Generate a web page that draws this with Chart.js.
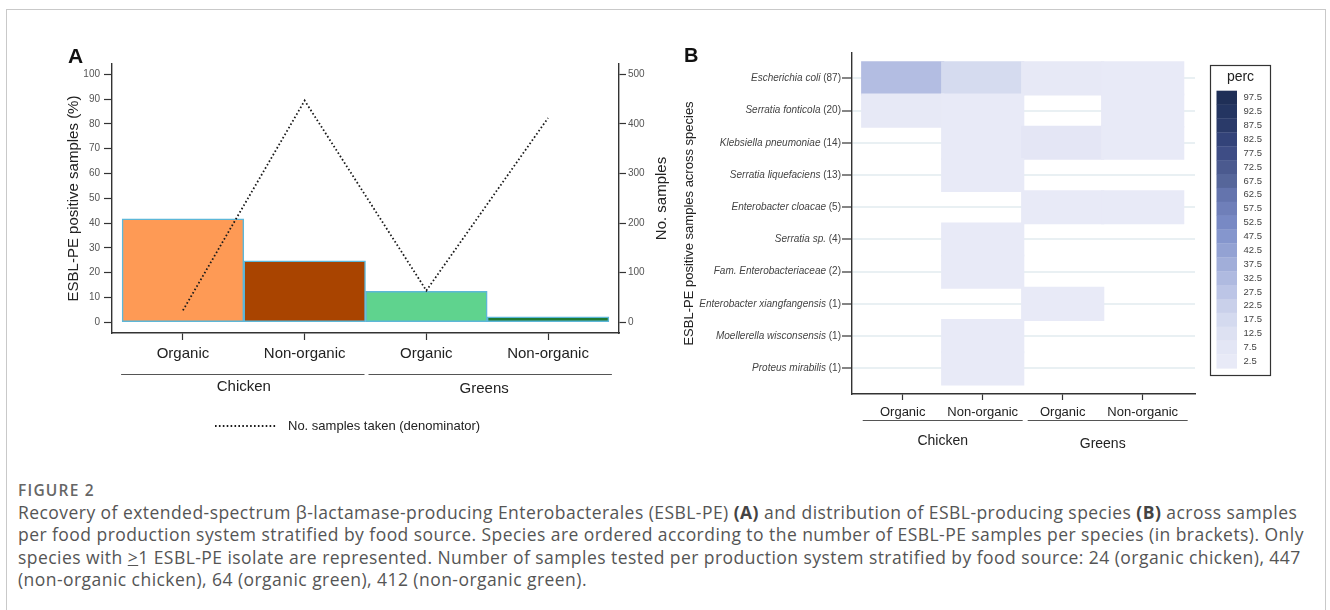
<!DOCTYPE html>
<html>
<head>
<meta charset="utf-8">
<script src="https://cdn.jsdelivr.net/npm/chart.js@4.4.1/dist/chart.umd.min.js"></script>
<style>
  body { margin: 0; background: #fff; width: 1330px; height: 610px; overflow: hidden; position: relative; }
  #frame { position: absolute; left: 6px; top: 9px; width: 1318px; height: 700px; border: 1px solid #c9c9c9; }
  #chartA { position: absolute; left: 0; top: 0; }
  #chartB { position: absolute; left: 670px; top: 0; }
  #fig { position: absolute; left: 18px; top: 480px; font: 600 15.5px 'Open Sans', sans-serif; color: #666; letter-spacing: 1.2px; line-height: 20px; }
  #caption { position: absolute; left: 18px; top: 501px; font: 17.5px 'Open Sans', sans-serif; color: #555; letter-spacing: 0.45px; line-height: 22.3px; white-space: nowrap; }
  #caption b { color: #444; }
</style>
</head>
<body>
<div id="frame"></div>
<canvas id="chartA" width="700" height="450"></canvas>
<canvas id="chartB" width="660" height="450"></canvas>
<div id="fig">FIGURE 2</div>
<div id="caption">
  <div>Recovery of extended-spectrum β-lactamase-producing Enterobacterales (ESBL-PE) <b>(A)</b> and distribution of ESBL-producing species <b>(B)</b> across samples</div>
  <div>per food production system stratified by food source. Species are ordered according to the number of ESBL-PE samples per species (in brackets). Only</div>
  <div>species with <u>&gt;</u>1 ESBL-PE isolate are represented. Number of samples tested per production system stratified by food source: 24 (organic chicken), 447</div>
  <div>(non-organic chicken), 64 (organic green), 412 (non-organic green).</div>
</div>
<script>
// panel A data
const systemLabels = ['Organic', 'Non-organic', 'Organic', 'Non-organic'];
const foodSources = ['Chicken', 'Greens'];
const esblPositivePct = [41.7, 24.8, 12.5, 2.2];
const samplesTaken = [24, 447, 64, 412];
const pctTicks = [0, 10, 20, 30, 40, 50, 60, 70, 80, 90, 100];
const sampleTicks = [0, 100, 200, 300, 400, 500];

// panel B data
const species = ['Escherichia coli', 'Serratia fonticola', 'Klebsiella pneumoniae', 'Serratia liquefaciens',
  'Enterobacter cloacae', 'Serratia sp.', 'Fam. Enterobacteriaceae', 'Enterobacter xiangfangensis',
  'Moellerella wisconsensis', 'Proteus mirabilis'];
const speciesCounts = [87, 20, 14, 13, 5, 4, 2, 1, 1, 1];
const percOrganicChicken = [31, 4, null, null, null, null, null, null, null, null];
const percNonOrganicChicken = [17, 3, 3, 3, null, 2, 1, null, 1, 1];
const percOrganicGreens = [4, null, 7, null, 3, null, null, 2, null, null];
const percNonOrganicGreens = [3, 2, 2, null, 2, null, null, null, null, null];
const percLevels = [2.5, 7.5, 12.5, 17.5, 22.5, 27.5, 32.5, 37.5, 42.5, 47.5,
  52.5, 57.5, 62.5, 67.5, 72.5, 77.5, 82.5, 87.5, 92.5, 97.5];

const barColors = ['#fe9a55', '#a94400', '#5fd38e', '#1f7a33'];
const percColors = ['#e8eaf7', '#e3e6f5', '#dde1f2', '#d4daef', '#c9d0ea', '#bcc5e6', '#afbae0', '#a1aed9',
  '#93a2d3', '#8596cd', '#7889c4', '#6f7fb9', '#6474ad', '#56669a', '#4b5a8f', '#3e4d85',
  '#334379', '#2a3a69', '#243561', '#1f2f57'];

const FONT = "'Liberation Sans', Arial, sans-serif";
Chart.defaults.font.family = FONT;
Chart.defaults.color = '#555';

function hexRgb(h) {
  return [parseInt(h.slice(1, 3), 16), parseInt(h.slice(3, 5), 16), parseInt(h.slice(5, 7), 16)];
}
function colorFor(v) {
  let t = (v - percLevels[0]) / (percLevels[1] - percLevels[0]);
  t = Math.max(0, Math.min(percColors.length - 1, t));
  const i = Math.floor(t), j = Math.min(i + 1, percColors.length - 1), f = t - i;
  const a = hexRgb(percColors[i]), b = hexRgb(percColors[j]);
  const c = a.map((x, k) => Math.round(x + (b[k] - x) * f));
  return `rgb(${c[0]},${c[1]},${c[2]})`;
}

function rotatedText(ctx, text, x, y, font, color) {
  ctx.save();
  ctx.translate(x, y);
  ctx.rotate(-Math.PI / 2);
  ctx.font = font;
  ctx.fillStyle = color;
  ctx.textAlign = 'center';
  ctx.textBaseline = 'middle';
  ctx.fillText(text, 0, 0);
  ctx.restore();
}

const axisLine = { color: '#333', width: 1.4 };
const tickMarks = (len) => ({ offset: false, drawOnChartArea: false, tickLength: len, tickColor: '#333', tickWidth: 1.2 });

// Panel A extras: titles, group labels, legend
const panelADecor = {
  id: 'panelADecor',
  afterDraw(chart) {
    const { ctx, chartArea: a, scales: { x } } = chart;
    ctx.save();
    ctx.fillStyle = '#111';
    ctx.font = `bold 21px ${FONT}`;
    ctx.textBaseline = 'alphabetic';
    ctx.fillText('A', 68, 63);

    const midY = (a.top + a.bottom) / 2;
    rotatedText(ctx, 'ESBL-PE positive samples (%)', 74, midY, `15px ${FONT}`, '#222');
    rotatedText(ctx, 'No. samples', 662, midY, `15px ${FONT}`, '#222');

    // food source brackets
    ctx.strokeStyle = '#555';
    ctx.lineWidth = 1;
    const lineY = 374.5;
    ctx.beginPath();
    ctx.moveTo(x.getPixelForValue(-0.5) - 1, lineY);
    ctx.lineTo(x.getPixelForValue(1.5) - 1, lineY);
    ctx.moveTo(x.getPixelForValue(1.5) + 3, lineY);
    ctx.lineTo(x.getPixelForValue(3.5) + 3, lineY);
    ctx.stroke();
    ctx.fillStyle = '#222';
    ctx.font = `15px ${FONT}`;
    ctx.textAlign = 'center';
    ctx.textBaseline = 'middle';
    ctx.fillText(foodSources[0], x.getPixelForValue(0.5), 387);
    ctx.fillText(foodSources[1], x.getPixelForValue(2.5) - 3, 389);

    // legend
    const ds = chart.data.datasets[0];
    ctx.strokeStyle = ds.borderColor;
    ctx.lineWidth = ds.borderWidth;
    ctx.setLineDash(ds.borderDash);
    ctx.beginPath();
    ctx.moveTo(215, 426);
    ctx.lineTo(276, 426);
    ctx.stroke();
    ctx.setLineDash([]);
    ctx.font = `13px ${FONT}`;
    ctx.textAlign = 'left';
    ctx.fillText(ds.label, 288, 426);
    ctx.restore();
  }
};

new Chart(document.getElementById('chartA'), {
  data: {
    datasets: [
      {
        type: 'line', label: 'No. samples taken (denominator)',
        data: samplesTaken.map((v, i) => ({ x: i, y: v })),
        yAxisID: 'y2', borderColor: '#1a1a1a', borderWidth: 1.8, borderDash: [1.6, 2.3],
        pointRadius: 0, fill: false, tension: 0, order: 0
      },
      {
        type: 'bar', label: 'ESBL-PE positive samples (%)',
        data: esblPositivePct.map((v, i) => ({ x: i, y: v })),
        yAxisID: 'y', backgroundColor: barColors, borderColor: '#5db7d8', borderWidth: 1.5,
        borderSkipped: false, barPercentage: 1, categoryPercentage: 1, order: 1
      }
    ]
  },
  options: {
    responsive: false, animation: false, devicePixelRatio: 1,
    layout: { padding: { top: 64, left: 0, right: 0, bottom: 0 } },
    plugins: { legend: { display: false }, tooltip: { enabled: false } },
    scales: {
      x: {
        type: 'linear', offset: false, min: -0.583, max: 3.583,
        afterBuildTicks: s => { s.ticks = systemLabels.map((_, i) => ({ value: i })); },
        ticks: { callback: v => systemLabels[v], font: { size: 15 }, color: '#222', padding: 5, maxRotation: 0, autoSkip: false },
        grid: tickMarks(7), border: axisLine,
        afterFit: s => { s.height = 117; }
      },
      y: {
        type: 'linear', position: 'left', min: -4.32, max: 104.16,
        afterBuildTicks: s => { s.ticks = pctTicks.map(v => ({ value: v })); },
        ticks: { font: { size: 10 }, color: '#555', padding: 4 },
        grid: tickMarks(8), border: axisLine,
        afterFit: s => { s.width = 112; }
      },
      y2: {
        type: 'linear', position: 'right', min: -21.6, max: 520.8,
        afterBuildTicks: s => { s.ticks = sampleTicks.map(v => ({ value: v })); },
        ticks: { font: { size: 10 }, color: '#555', padding: 2 },
        grid: tickMarks(7), border: axisLine,
        afterFit: s => { s.width = 81; }
      }
    }
  },
  plugins: [panelADecor]
});

// Panel B: heatmap cells as floating bars
const percByColumn = [percOrganicChicken, percNonOrganicChicken, percOrganicGreens, percNonOrganicGreens];
const cells = [];
species.forEach((_, r) => {
  percByColumn.forEach((col, c) => {
    if (col[r] != null) cells.push({ x: c, y: [r - 0.53, r + 0.53], v: col[r] });
  });
});

const panelBDecor = {
  id: 'panelBDecor',
  afterDraw(chart) {
    const { ctx, chartArea: a, scales: { x, y } } = chart;
    ctx.save();
    ctx.fillStyle = '#111';
    ctx.font = `bold 20px ${FONT}`;
    ctx.fillText('B', 14, 62);

    rotatedText(ctx, 'ESBL-PE positive samples across species', 19, (a.top + a.bottom) / 2, `13px ${FONT}`, '#222');

    // species labels: italic name + plain count
    ctx.textBaseline = 'middle';
    ctx.textAlign = 'right';
    ctx.fillStyle = '#444';
    const right = a.left - 11;
    species.forEach((name, i) => {
      const py = y.getPixelForValue(i);
      const count = ` (${speciesCounts[i]})`;
      ctx.font = `10px ${FONT}`;
      const cw = ctx.measureText(count).width;
      ctx.fillText(count, right, py);
      ctx.font = `italic 10px ${FONT}`;
      ctx.fillText(name, right - cw, py);
    });

    // food source brackets
    ctx.strokeStyle = '#555';
    ctx.lineWidth = 1;
    const lineY = 420.5;
    ctx.beginPath();
    ctx.moveTo(x.getPixelForValue(-0.5), lineY);
    ctx.lineTo(x.getPixelForValue(1.5), lineY);
    ctx.moveTo(x.getPixelForValue(1.5) + 5, lineY);
    ctx.lineTo(x.getPixelForValue(3.5) + 5, lineY);
    ctx.stroke();
    ctx.fillStyle = '#222';
    ctx.font = `14px ${FONT}`;
    ctx.textAlign = 'center';
    ctx.fillText(foodSources[0], x.getPixelForValue(0.5), 441);
    ctx.fillText(foodSources[1], x.getPixelForValue(2.5), 444);

    // colour legend
    const bx = 540.5, by = 65.5, bw = 60, bh = 310;
    ctx.strokeStyle = '#333';
    ctx.lineWidth = 1.2;
    ctx.strokeRect(bx, by, bw, bh);
    ctx.font = `14px ${FONT}`;
    ctx.fillText('perc', bx + 30, by + 12);
    const sx = bx + 6, sTop = 90.7, sH = 13.88;
    ctx.font = `9.5px ${FONT}`;
    ctx.textAlign = 'left';
    for (let k = percLevels.length - 1, n = 0; k >= 0; k--, n++) {
      const top = sTop + n * sH;
      ctx.fillStyle = colorFor(percLevels[k]);
      ctx.fillRect(sx, top, 20.5, sH + 0.3);
      ctx.fillStyle = '#444';
      ctx.fillText(String(percLevels[k]), sx + 27, top + sH / 2);
    }
    ctx.restore();
  }
};

new Chart(document.getElementById('chartB'), {
  type: 'bar',
  data: {
    datasets: [{
      label: 'perc', data: cells,
      backgroundColor: c => (c.raw ? colorFor(c.raw.v) : 'transparent'),
      borderWidth: 0, barPercentage: 1.04, categoryPercentage: 1
    }]
  },
  options: {
    responsive: false, animation: false, devicePixelRatio: 1,
    layout: { padding: { top: 53, left: 0, right: 135, bottom: 0 } },
    plugins: { legend: { display: false }, tooltip: { enabled: false } },
    scales: {
      x: {
        type: 'linear', offset: false, min: -0.634, max: 3.654,
        afterBuildTicks: s => { s.ticks = systemLabels.map((_, i) => ({ value: i })); },
        ticks: { callback: v => systemLabels[v], font: { size: 13 }, color: '#222', padding: 5, maxRotation: 0, autoSkip: false },
        grid: tickMarks(6), border: axisLine,
        afterFit: s => { s.height = 56; }
      },
      y: {
        type: 'linear', reverse: true, min: -0.786, max: 9.795,
        afterBuildTicks: s => { s.ticks = species.map((_, i) => ({ value: i })); },
        ticks: { display: false },
        grid: { offset: false, color: '#e9f0f3', lineWidth: 2, tickLength: 10, tickColor: '#333', tickWidth: 1.2 },
        border: axisLine,
        afterFit: s => { s.width = 182; }
      }
    }
  },
  plugins: [panelBDecor]
});
</script>
</body>
</html>
